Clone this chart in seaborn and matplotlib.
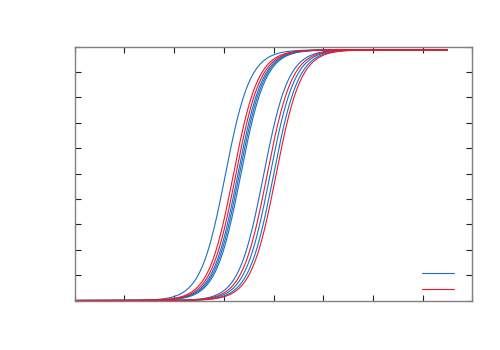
import numpy as np
import pandas as pd
import matplotlib
matplotlib.use("Agg")
import matplotlib.pyplot as plt
import seaborn as sns
from matplotlib.lines import Line2D

# Curve parameters (x in axis units, 0..8)
mid_blue = [3.03, 3.28, 3.31, 3.34, 3.80, 3.93, 4.00]
mid_red = [3.19, 3.24, 3.87, 4.05]
scale = 0.25          # logistic width
plateau = 0.987
x_start, x_end = 0.0, 7.5
x_ticks = [0, 1, 2, 3, 4, 5, 6, 7, 8]
y_ticks = [0, 0.1, 0.2, 0.3, 0.4, 0.5, 0.6, 0.7, 0.8, 0.9, 1.0]

blue = "#1a6fc0"
red = "#e8182e"

sns.set_style("white")
plt.rcParams['font.family'] = ['DejaVu Sans']

fig = plt.figure(figsize=(5, 3.5), dpi=100)
ax = fig.add_axes([0.1494, 0.1414, 0.7952, 0.7257])

x = np.linspace(x_start, x_end, 400)
rows = []
for i, m in enumerate(mid_blue):
    y = plateau / (1 + np.exp(-(x - m) / scale))
    rows.append(pd.DataFrame({"x": x, "y": y, "curve": f"b{i}", "grp": "blue"}))
for i, m in enumerate(mid_red):
    y = plateau / (1 + np.exp(-(x - m) / scale))
    rows.append(pd.DataFrame({"x": x, "y": y, "curve": f"r{i}", "grp": "red"}))
df = pd.concat(rows, ignore_index=True)

sns.lineplot(data=df, x="x", y="y", hue="grp", units="curve", estimator=None,
             palette={"blue": blue, "red": red}, linewidth=0.8, ax=ax, legend=False)

ax.set_xlim(0, 8)
ax.set_ylim(0, 1.0)
ax.set_xticks(x_ticks)
ax.set_yticks(y_ticks)
ax.set_xticklabels([])
ax.set_yticklabels([])
ax.set_xlabel("")
ax.set_ylabel("")
ax.tick_params(direction="in", length=4, width=0.8, color="#222222",
               top=True, right=True, bottom=True, left=True)
for s in ax.spines.values():
    s.set_color("#808080")
    s.set_linewidth(1.0)

handles = [Line2D([], [], color=blue, lw=0.8), Line2D([], [], color=red, lw=0.8)]
ax.legend(handles, [" ", " "], loc="lower right", frameon=False,
          handlelength=2.3, fontsize=10, labelspacing=0.1,
          bbox_to_anchor=(1.003, -0.033), handletextpad=0.2)

fig.savefig("out.png", dpi=100)
